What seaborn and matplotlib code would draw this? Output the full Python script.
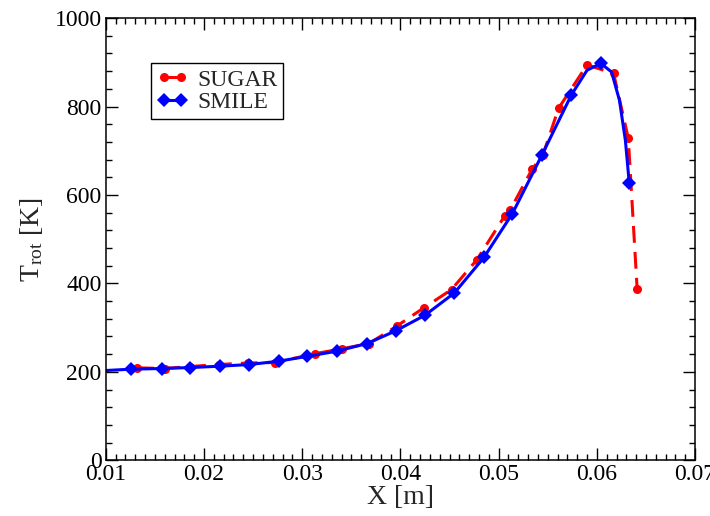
import numpy as np
import pandas as pd
import matplotlib
matplotlib.use("Agg")
import matplotlib.pyplot as plt
from matplotlib.ticker import MultipleLocator, AutoMinorLocator
import seaborn as sns

# Rotational temperature along the stagnation line
sugar_x = [0.0132, 0.0160, 0.0186, 0.0215, 0.0245, 0.0272, 0.0313, 0.0340, 0.0368,
           0.0396, 0.0424, 0.0452, 0.0478, 0.0506, 0.0512, 0.0534, 0.0545, 0.0561,
           0.0590, 0.0617, 0.0632, 0.0641]
sugar_T = [209, 207.5, 212, 216.5, 220, 221, 241, 252, 264,
           303, 345, 386, 454, 552, 567, 658, 690, 796,
           894, 875, 728, 388]

smile_x = [0.0100, 0.0126, 0.0157, 0.0186, 0.0216, 0.0246, 0.0276, 0.0305, 0.0335,
           0.0366, 0.0395, 0.0425, 0.0455, 0.0485, 0.0514, 0.0544, 0.0574, 0.0590,
           0.0604, 0.0615, 0.0623, 0.0629, 0.0633]
smile_T = [203, 206, 207.5, 209.7, 212.7, 216.5, 224, 235, 246.6,
           264, 292.5, 328, 378.5, 458.6, 558, 690, 826, 882,
           897.5, 878, 814, 724, 626]
smile_markers = [1, 2, 3, 4, 5, 6, 7, 8, 9, 10, 11, 12, 13, 14, 15, 16, 18, 22]

sns.set_style("ticks")
plt.rcParams["font.family"] = ["Liberation Serif", "DejaVu Serif"]
plt.rcParams["mathtext.fontset"] = "custom"
plt.rcParams["mathtext.rm"] = "Liberation Serif"
plt.rcParams["mathtext.it"] = "Liberation Serif:italic"

fig = plt.figure(figsize=(7.10, 5.16), dpi=100)
ax = fig.add_axes([0.149, 0.108, 0.830, 0.857])

sugar = pd.DataFrame({"x": sugar_x, "T": sugar_T})
smile = pd.DataFrame({"x": smile_x, "T": smile_T})

sns.lineplot(data=sugar, x="x", y="T", ax=ax, color="#ff0000", marker="o",
             markersize=6.5, markeredgewidth=0, linewidth=2.2, label="SUGAR",
             sort=False)
ax.lines[-1].set_dashes([5.5, 3.0])

sns.lineplot(data=smile, x="x", y="T", ax=ax, color="#0000ff", marker="D",
             markersize=7.5, markeredgewidth=0, linewidth=2.2, label="SMILE",
             markevery=smile_markers, sort=False)

ax.set_xlim(0.01, 0.07)
ax.set_ylim(0, 1000)
ax.xaxis.set_major_locator(MultipleLocator(0.01))
ax.xaxis.set_minor_locator(AutoMinorLocator(10))
ax.yaxis.set_major_locator(MultipleLocator(200))
ax.yaxis.set_minor_locator(AutoMinorLocator(5))
ax.set_xticklabels([f"{v:.2f}" for v in ax.get_xticks()])

for s in ax.spines.values():
    s.set_visible(True)
    s.set_linewidth(1.1)
    s.set_color("black")

ax.tick_params(which="both", direction="in", top=True, right=True,
               labelsize=17, colors="black", width=1.0)
ax.tick_params(which="major", length=8.5, pad=3)
ax.tick_params(which="minor", length=4)

ax.set_xlabel("X [m]", fontsize=20, labelpad=0)
ax.set_ylabel(r"T$_{\mathrm{rot}}$ [K]", fontsize=20, labelpad=7)

leg = ax.legend(loc="upper left", bbox_to_anchor=(0.077, 0.898), fontsize=17,
                frameon=True, fancybox=False, edgecolor="black", framealpha=1,
                numpoints=2, handlelength=1.3, handletextpad=0.4,
                borderpad=0.25, labelspacing=0.05, borderaxespad=0)
leg.get_frame().set_linewidth(1.0)

fig.savefig("out.png", dpi=100)
